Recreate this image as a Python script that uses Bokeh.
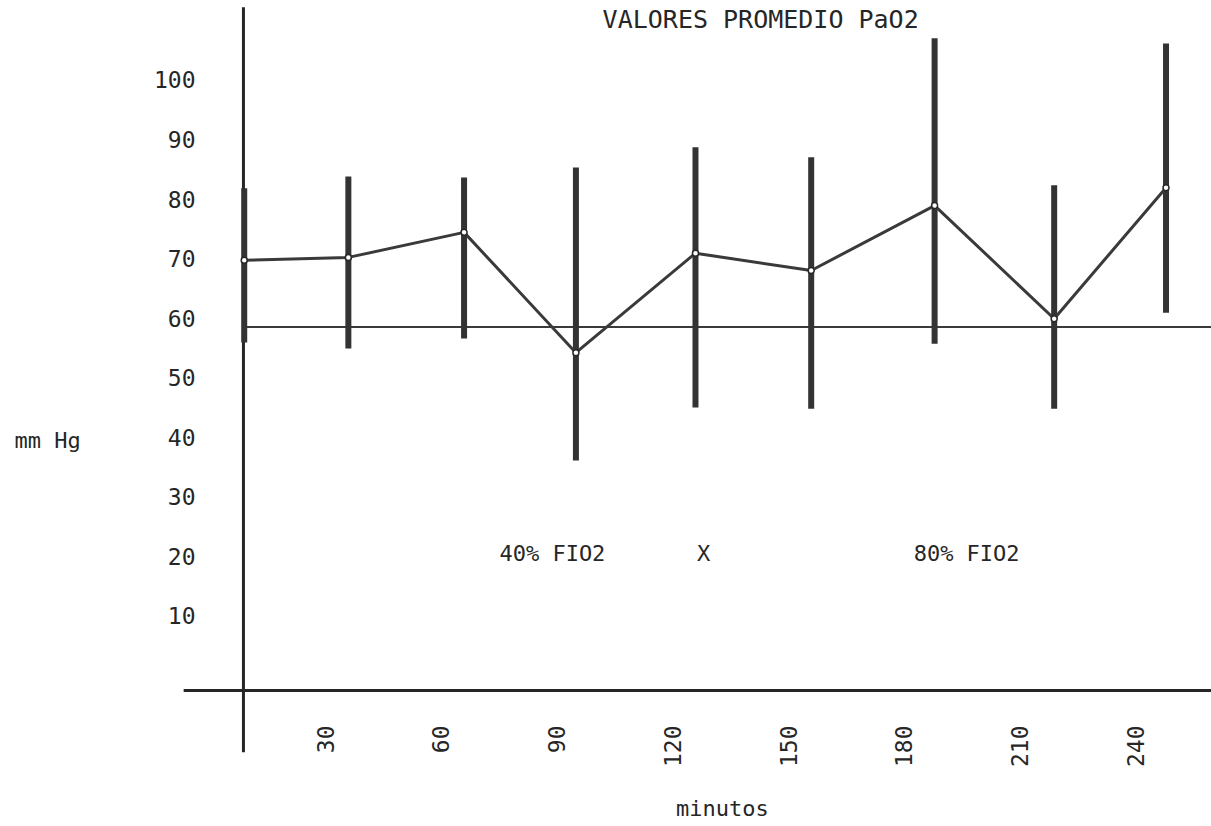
import math
from bokeh.plotting import figure
from bokeh.models import Range1d, FixedTicker, Label, ColumnDataSource
from bokeh.embed import file_html
from bokeh.resources import INLINE

# ---- data (x in minutes, y in mm Hg) ----
x_ticks = [30, 60, 90, 120, 150, 180, 210, 240]
y_ticks = [10, 20, 30, 40, 50, 60, 70, 80, 90, 100]
minutes = [9, 36, 66, 95, 126, 156, 188, 219, 248]
pao2_mean = [69.7, 70.2, 74.4, 54.2, 70.9, 68.0, 78.9, 59.9, 81.9]
pao2_high = [81.8, 83.8, 83.6, 85.3, 88.7, 87.0, 107.0, 82.3, 106.1]
pao2_low = [55.9, 54.9, 56.6, 36.1, 45.0, 44.8, 55.7, 44.8, 60.9]
ref_level = 58.5

title_text = "VALORES PROMEDIO PaO2"
y_title = "mm Hg"
x_title = "minutos"
notes = ["40% FIO2", "X", "80% FIO2"]
notes_x = [88.9, 128.1, 196.3]
notes_y = 20.5

# ---- hand-drawn axis lines of the original (layout) ----
y_axis_at = 8.8                  # minutes
y_axis_span = (-12.9, 112.2)     # mm Hg extent of the vertical line
x_axis_at = -2.5                 # mm Hg
x_axis_span = (-6.7, 262)        # minutes extent of the horizontal line
ref_span = (8.8, 262)

FONT = "DejaVu Sans Mono"
INK = "#262626"

src = ColumnDataSource(dict(m=minutes, mean=pao2_mean, hi=pao2_high, lo=pao2_low))

p = figure(width=1211, height=826, output_backend="svg", toolbar_location=None,
           x_range=Range1d(-54.19, 259.79), y_range=Range1d(-25.35, 113.33),
           min_border_left=0, min_border_right=0, min_border_top=0,
           min_border_bottom=0)
p.outline_line_color = None
p.grid.visible = False
p.background_fill_color = "white"
p.border_fill_color = "white"

# axes: tick labels only, pulled into the frame
p.xaxis.ticker = FixedTicker(ticks=x_ticks)
p.yaxis.ticker = FixedTicker(ticks=y_ticks)
for ax in (p.xaxis[0], p.yaxis[0]):
    ax.axis_line_color = None
    ax.major_tick_line_color = None
    ax.minor_tick_line_color = None
    ax.major_label_text_font = FONT
    ax.major_label_text_font_size = "23px"
    ax.major_label_text_color = INK
p.xaxis.major_label_orientation = math.pi / 2
p.xaxis.major_label_standoff = -107
p.yaxis.major_label_standoff = -201

# drawn axis lines
p.segment(x0=[y_axis_at], x1=[y_axis_at], y0=[y_axis_span[0]], y1=[y_axis_span[1]],
          line_color=INK, line_width=3)
p.segment(x0=[x_axis_span[0]], x1=[x_axis_span[1]], y0=[x_axis_at], y1=[x_axis_at],
          line_color=INK, line_width=3)

# reference level
p.segment(x0=[ref_span[0]], x1=[ref_span[1]], y0=[ref_level], y1=[ref_level],
          line_color="#3a3a3a", line_width=2)

# error bars and mean line
p.segment(x0="m", y0="lo", x1="m", y1="hi", source=src, line_color="#333333", line_width=6)
p.line(x="m", y="mean", source=src, line_color="#3a3a3a", line_width=3)
p.scatter(x="m", y="mean", source=src, marker="circle", size=6,
          fill_color="white", line_color=INK, line_width=1.5)

def lab(x, y, t, size="23px", align="center"):
    p.add_layout(Label(x=x, y=y, text=t, text_font=FONT, text_font_size=size,
                       text_color=INK, text_align=align, text_baseline="middle"))

lab(142.9, 110.1, title_text, "25px")
lab(-42, 39.5, y_title, "22px")
lab(133, -22.4, x_title, "22px")
for t, x in zip(notes, notes_x):
    lab(x, notes_y, t, "22px")

open("out.html", "w").write(file_html(p, INLINE))
